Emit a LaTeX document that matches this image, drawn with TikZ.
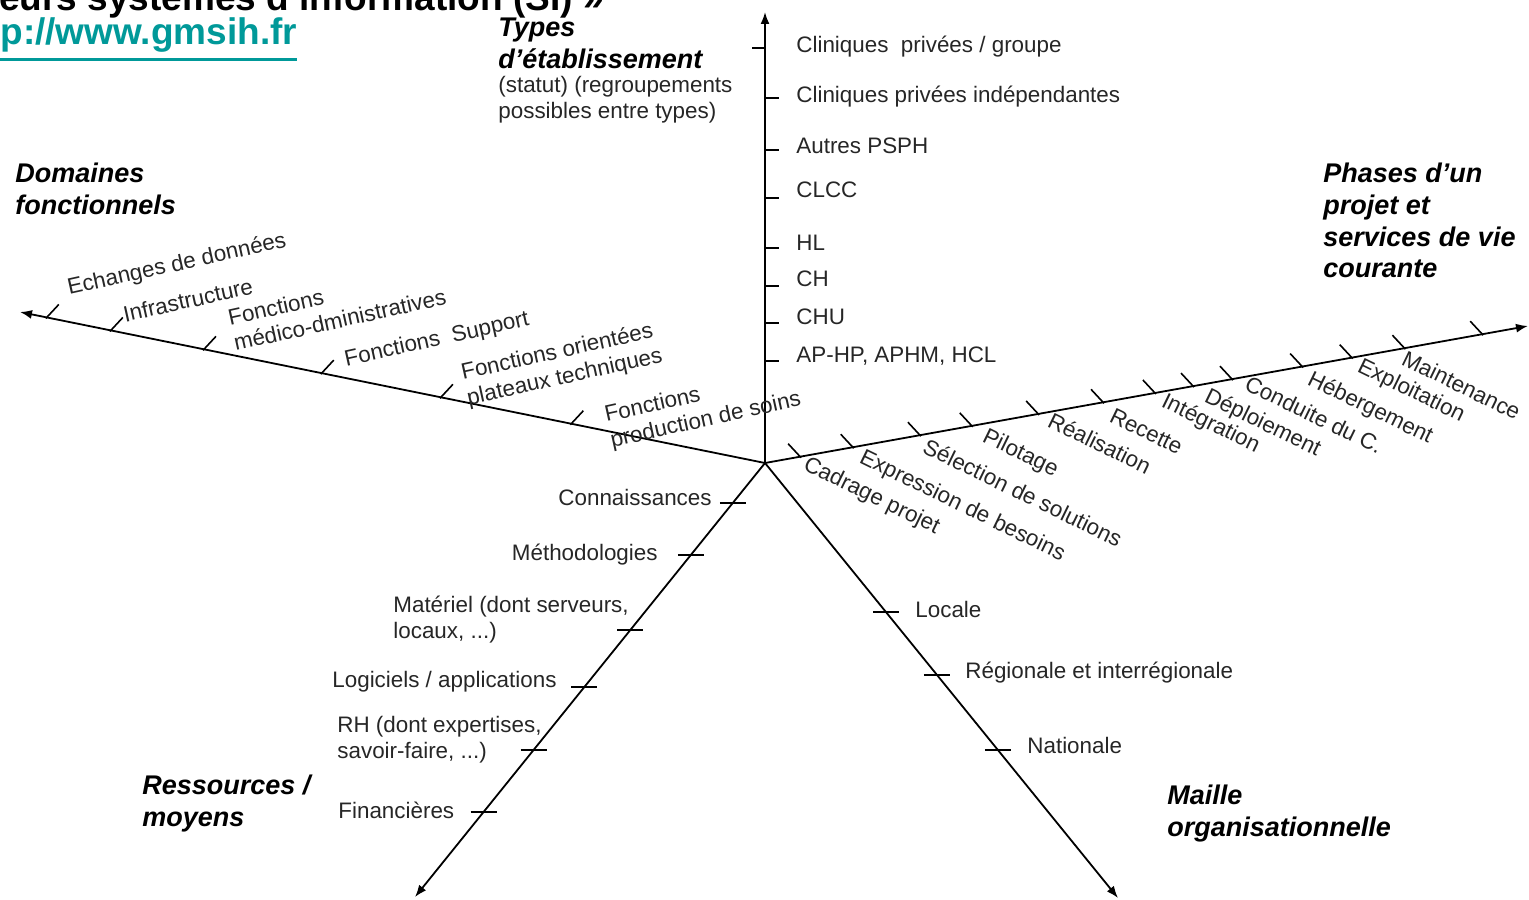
\documentclass[tikz,border=0pt]{standalone}
\usepackage{fontspec}
\setmainfont{Liberation Sans}
\usepackage{xcolor}
\usepackage{tikz}
\tikzset{rounded corners=0}
\usetikzlibrary{calc,arrows.meta}
\definecolor{gmsihteal}{RGB}{0,153,153}

\begin{document}
\begin{tikzpicture}[>={Latex[length=6pt,width=4.5pt]},x=.5pt,y=-.5pt,
	axe/.style={line width=.9pt},
	tic/.style={line width=.8pt},
	lbl/.style={inner sep=0pt,text=black!85,font=\fontsize{11.2}{13}\selectfont},
	ttl/.style={inner sep=0pt,align=left,anchor=north west,font=\fontsize{13.5}{15.8}\selectfont\bfseries\itshape}]
	\useasboundingbox (0,0) rectangle (1529,899);
	% en-tete (coupe en haut)
	\node[anchor=base west,inner sep=0pt,font=\fontsize{18.5}{22}\selectfont\bfseries] (head) at (-1,11) {eurs systèmes d’information (SI) »};
	\node[anchor=base west,inner sep=0pt,text=gmsihteal,font=\fontsize{18.5}{22}\selectfont\bfseries] (url) at (0,45) {p://www.gmsih.fr};
	\draw[gmsihteal,line width=1.6pt] ([yshift=-3pt]url.south west) -- ([yshift=-3pt]url.south east);
	% axes
	\coordinate (O) at (765,463);
	\coordinate (top) at (765,12);
	\coordinate (dl) at (20,312);
	\coordinate (ph) at (1528,326);
	\coordinate (rb) at (415,897);
	\coordinate (mb) at (1118,898);
	\draw[axe,->] (O)--(top);
	\draw[axe,->] (O)--(dl);
	\draw[axe,->] (O)--(ph);
	\draw[axe,->] (O)--(rb);
	\draw[axe,->] (O)--(mb);
	% graduations
	\draw[tic] (752,48)--(765,48);
	\foreach \y in {98,150,198,248,286,323,361}
		\draw[tic] (765,\y)--++(14,0);
	\foreach \f in {.964,.878,.753,.595,.435,.260}
		\draw[tic] ($(O)!\f!(dl)$) ++(-1,1) -- ++(13,-14);
	\foreach \f in {.046,.115,.203,.271,.358,.443,.511,.561,.612,.704,.769,.838,.940}
		\draw[tic] ($(O)!\f!(ph)$) ++(1,1) -- ++(-13,-14);
	\foreach \f in {.092,.212,.385,.516,.661,.804}
		\draw[tic] ($(O)!\f!(rb)$) ++(-13,0) -- ++(26,0);
	\foreach \f in {.343,.487,.660}
		\draw[tic] ($(O)!\f!(mb)$) ++(-13,0) -- ++(26,0);
	% titres
	\node[ttl] (types) at (498,18) {Types\\d’établissement};
	\node[lbl,align=left,anchor=north west] (statut) at (498,76) {(statut) (regroupements\\possibles entre types)};
	\node[ttl] (domaines) at (15,163) {Domaines\\fonctionnels};
	\node[ttl] (phases) at (1323,163) {Phases d’un\\projet et\\services de vie\\courante};
	\node[ttl] (ressources) at (142,775) {Ressources /\\moyens};
	\node[ttl] (maille) at (1167,785) {Maille\\organisationnelle};
	% types d'etablissement
	\node[lbl,anchor=base west] (cpg) at (796,53) {Cliniques\ \ privées / groupe};
	\node[lbl,anchor=base west] (cpi) at (796,103) {Cliniques privées indépendantes};
	\node[lbl,anchor=base west] (psph) at (796,153) {Autres PSPH};
	\node[lbl,anchor=base west] (clcc) at (796,197) {CLCC};
	\node[lbl,anchor=base west] (hl) at (796,250) {HL};
	\node[lbl,anchor=base west] (ch) at (796,286) {CH};
	\node[lbl,anchor=base west] (chu) at (796,324) {CHU};
	\node[lbl,anchor=base west] (aphp) at (796,362) {AP-HP, APHM, HCL};
	% domaines fonctionnels
	\node[lbl,rotate=12.5] (ech) at (177,265) {Echanges de données};
	\node[lbl,rotate=12.5] (infra) at (188,300) {Infrastructure};
	\node[lbl,rotate=12.5,align=left] (medadm) at (337,307) {Fonctions\\médico-dministratives};
	\node[lbl,rotate=12.5] (supp) at (437,340) {Fonctions\ \ Support};
	\node[lbl,rotate=12.5,align=left] (plat) at (562,365) {Fonctions orientées\\plateaux techniques};
	\node[lbl,rotate=12.5,align=left] (soins) at (703,408) {Fonctions\\production de soins};
	% phases
	\node[lbl,rotate=-26,anchor=base west] (cad) at (802,469) {Cadrage projet};
	\node[lbl,rotate=-26,anchor=base west] (expr) at (858,462) {Expression de besoins};
	\node[lbl,rotate=-26,anchor=base west] (sel) at (921,452) {Sélection de solutions};
	\node[lbl,rotate=-26,anchor=base west] (pil) at (981,441) {Pilotage};
	\node[lbl,rotate=-26,anchor=base west] (real) at (1046,426) {Réalisation};
	\node[lbl,rotate=-26,anchor=base west] (rec) at (1108,421) {Recette};
	\node[lbl,rotate=-26,anchor=base west] (integ) at (1160,406) {Intégration};
	\node[lbl,rotate=-26,anchor=base west] (depl) at (1203,401) {Déploiement};
	\node[lbl,rotate=-26,anchor=base west] (cond) at (1243,389) {Conduite du C.};
	\node[lbl,rotate=-26,anchor=base west] (heb) at (1306,384) {Hébergement};
	\node[lbl,rotate=-26,anchor=base west] (expl) at (1356,371) {Exploitation};
	\node[lbl,rotate=-26,anchor=base west] (maint) at (1400,364) {Maintenance};
	% ressources
	\node[lbl,anchor=base east] (conn) at (712,505) {Connaissances};
	\node[lbl,anchor=base east] (meth) at (658,560) {Méthodologies};
	\node[lbl,align=left,anchor=north west] (mat) at (393,596) {Matériel (dont serveurs,\\locaux, ...)};
	\node[lbl,anchor=base west] (logi) at (332,687) {Logiciels / applications};
	\node[lbl,align=left,anchor=north west] (rh) at (337,716) {RH (dont expertises,\\savoir-faire, ...)};
	\node[lbl,anchor=base west] (fin) at (338,818) {Financières};
	% maille
	\node[lbl,anchor=base west] (loc) at (915,617) {Locale};
	\node[lbl,anchor=base west] (reg) at (965,678) {Régionale et interrégionale};
	\node[lbl,anchor=base west] (nat) at (1027,753) {Nationale};
\end{tikzpicture}
\end{document}
